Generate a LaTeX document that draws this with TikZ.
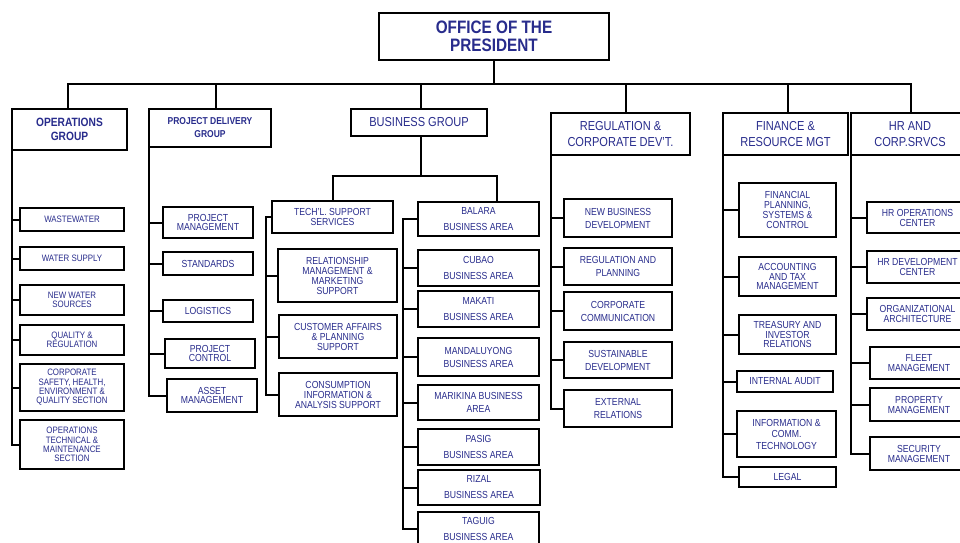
\documentclass[tikz,border=0pt]{standalone}
\usepackage{fontspec}
\setmainfont{Liberation Sans}[FakeStretch=0.85]
\definecolor{txt}{RGB}{40,44,140}
\tikzset{
  box/.style={draw, line width=1.8pt, fill=white, text=txt, align=center,
    inner sep=1pt, outer sep=0pt, anchor=north west},
  conn/.style={line width=2pt},
  fo/.style={font=\fontsize{18}{18}\selectfont\bfseries},
  fg/.style={font=\fontsize{13}{16}\selectfont},
  fgb/.style={font=\fontsize{12}{14}\selectfont\bfseries},
  fpb/.style={font=\fontsize{10}{13}\selectfont\bfseries},
  fs/.style={font=\fontsize{10.2}{10}\selectfont},
  fst/.style={font=\fontsize{10.2}{9.3}\selectfont},
  fsw/.style={font=\fontsize{10.2}{13}\selectfont},
  fsb/.style={font=\fontsize{10.2}{16}\selectfont},
  fops/.style={font=\fontsize{9.3}{9.3}\selectfont},
}
\newcommand\bx[7][]{\node[box,#1,minimum width={(#5-#3)*1pt},minimum height={(#6-#4)*1pt}] (#2) at (#3,#4) {#7};}
\begin{document}
\begin{tikzpicture}[x=1pt,y=-1pt]
\fill[white] (0,0) rectangle (960,542);
\useasboundingbox (0,0) rectangle (960,542);

% top
\bx[fo]{office}{379}{13}{609}{60}{OFFICE OF THE\\PRESIDENT}

% groups
\bx[fgb]{opsg}{12}{109}{127}{150}{OPERATIONS\\GROUP}
\bx[fpb]{pdg}{149}{109}{271}{147}{PROJECT DELIVERY\\GROUP}
\bx[fg]{bg}{351}{109}{487}{136}{BUSINESS GROUP}
\bx[fg]{regg}{551}{113}{690}{155}{REGULATION \&\\CORPORATE DEV'T.}
\bx[fg]{fing}{723}{113}{848}{155}{FINANCE \&\\RESOURCE MGT}
\bx[fg]{hrg}{851}{113}{969}{155}{HR AND\\CORP.SRVCS}

% operations
\bx[fops]{o1}{20}{208}{124}{231}{WASTEWATER}
\bx[fops]{o2}{20}{247}{124}{270}{WATER SUPPLY}
\bx[fops]{o3}{20}{285}{124}{315}{NEW WATER\\SOURCES}
\bx[fops]{o4}{20}{325}{124}{355}{QUALITY \&\\REGULATION}
\bx[fops]{o5}{20}{364}{124}{411}{CORPORATE\\SAFETY, HEALTH,\\ENVIRONMENT \&\\QUALITY SECTION}
\bx[fops]{o6}{20}{420}{124}{469}{OPERATIONS\\TECHNICAL \&\\MAINTENANCE\\SECTION}

% project delivery
\bx[fst]{p1}{163}{207}{253}{238}{PROJECT\\MANAGEMENT}
\bx[fst]{p2}{163}{252}{253}{275}{STANDARDS}
\bx[fst]{p3}{163}{300}{253}{322}{LOGISTICS}
\bx[fst]{p4}{165}{339}{255}{368}{PROJECT\\CONTROL}
\bx[fst]{p5}{167}{379}{257}{412}{ASSET\\MANAGEMENT}

% business: support
\bx[fs]{tech}{272}{201}{393}{233}{TECH'L. SUPPORT\\SERVICES}
\bx[fs]{t2}{278}{249}{397}{302}{RELATIONSHIP\\MANAGEMENT \&\\MARKETING\\SUPPORT}
\bx[fs]{t3}{279}{315}{397}{358}{CUSTOMER AFFAIRS\\\& PLANNING\\SUPPORT}
\bx[fs]{t4}{279}{373}{397}{416}{CONSUMPTION\\INFORMATION \&\\ANALYSIS SUPPORT}

% business areas
\bx[fsb]{ba1}{418}{202}{539}{236}{BALARA\\BUSINESS AREA}
\bx[fsb]{ba2}{418}{250}{539}{286}{CUBAO\\BUSINESS AREA}
\bx[fsb]{ba3}{418}{291}{539}{327}{MAKATI\\BUSINESS AREA}
\bx[fsw]{ba4}{418}{338}{539}{376}{MANDALUYONG\\BUSINESS AREA}
\bx[fsw]{ba5}{418}{385}{539}{420}{MARIKINA BUSINESS\\AREA}
\bx[fsb]{ba6}{418}{429}{539}{465}{PASIG\\BUSINESS AREA}
\bx[fsb]{ba7}{418}{470}{540}{505}{RIZAL\\BUSINESS AREA}
\bx[fsb]{ba8}{418}{512}{539}{546}{TAGUIG\\BUSINESS AREA}

% regulation
\bx[fsw]{r1}{564}{199}{672}{237}{NEW BUSINESS\\DEVELOPMENT}
\bx[fsw]{r2}{564}{248}{672}{285}{REGULATION AND\\PLANNING}
\bx[fsw]{r3}{564}{292}{672}{330}{CORPORATE\\COMMUNICATION}
\bx[fsw]{r4}{564}{342}{672}{378}{SUSTAINABLE\\DEVELOPMENT}
\bx[fsw]{r5}{564}{390}{672}{427}{EXTERNAL\\RELATIONS}

% finance
\bx[fs]{f1}{739}{183}{836}{237}{FINANCIAL\\PLANNING,\\SYSTEMS \&\\CONTROL}
\bx[fst]{f2}{739}{257}{836}{296}{ACCOUNTING\\AND TAX\\MANAGEMENT}
\bx[fst]{f3}{739}{315}{836}{354}{TREASURY AND\\INVESTOR\\RELATIONS}
\bx[fs]{f4}{737}{371}{833}{392}{INTERNAL AUDIT}
\bx[font=\fontsize{10.2}{11.5}\selectfont]{f5}{737}{411}{836}{457}{INFORMATION \&\\COMM.\\TECHNOLOGY}
\bx[fs]{f6}{739}{467}{836}{487}{LEGAL}

% HR
\bx[fs]{h1}{867}{202}{968}{233}{HR OPERATIONS\\CENTER}
\bx[fs]{h2}{867}{251}{968}{283}{HR DEVELOPMENT\\CENTER}
\bx[fs]{h3}{867}{298}{968}{330}{ORGANIZATIONAL\\ARCHITECTURE}
\bx[fs]{h4}{870}{347}{968}{379}{FLEET\\MANAGEMENT}
\bx[fs]{h5}{870}{388}{968}{421}{PROPERTY\\MANAGEMENT}
\bx[fs]{h6}{870}{437}{968}{470}{SECURITY\\MANAGEMENT}

% top connectors
\coordinate (busL) at (68,84);
\coordinate (busR) at (911,84);
\coordinate (d2) at (216,84);
\coordinate (d3) at (421,84);
\coordinate (d4) at (626,84);
\coordinate (d5) at (788,84);
\draw[conn] (office.south) -- (office.south |- busL);
\draw[conn] ([xshift=-1pt]busL) -- ([xshift=1pt]busR);
\draw[conn] (busL) -- (busL |- opsg.north);
\draw[conn] (d2) -- (d2 |- pdg.north);
\draw[conn] (d3) -- (d3 |- bg.north);
\draw[conn] (d4) -- (d4 |- regg.north);
\draw[conn] (d5) -- (d5 |- fing.north);
\draw[conn] (busR) -- (busR |- hrg.north);

% operations
\draw[conn] (opsg.south west) |- (o6.west);
\foreach \n in {o1,o2,o3,o4,o5} \draw[conn] (\n.west) -- (\n.west -| opsg.west);

% project delivery
\draw[conn] (pdg.south west) |- (p5.west);
\foreach \n in {p1,p2,p3,p4} \draw[conn] (\n.west) -- (\n.west -| pdg.west);

% business group
\coordinate (bsplit) at (421,176);
\coordinate (bL) at (332.5,176);
\coordinate (bR) at (497,176);
\draw[conn] (d3 |- bg.south) -- (bsplit);
\draw[conn] ([xshift=-1pt]bL) -- ([xshift=1pt]bR);
\draw[conn] (bL) -- (tech.north);
\draw[conn] (bR) -- (bR |- ba1.north);
\coordinate (tt) at (266,217);
\draw[conn] (tech.west) -- (tech.west -| tt) |- (t4.west);
\foreach \n in {t2,t3} \draw[conn] (\n.west) -- (\n.west -| tt);
\coordinate (bt) at (403,219);
\draw[conn] (ba1.west) -- (ba1.west -| bt) |- (ba8.west);
\foreach \n in {ba2,ba3,ba4,ba5,ba6,ba7} \draw[conn] (\n.west) -- (\n.west -| bt);

% regulation
\draw[conn] (regg.south west) |- (r5.west);
\foreach \n in {r1,r2,r3,r4} \draw[conn] (\n.west) -- (\n.west -| regg.west);

% finance
\draw[conn] (fing.south west) |- (f6.west);
\foreach \n in {f1,f2,f3,f4,f5} \draw[conn] (\n.west) -- (\n.west -| fing.west);

% HR
\draw[conn] (hrg.south west) |- (h6.west);
\foreach \n in {h1,h2,h3,h4,h5} \draw[conn] (\n.west) -- (\n.west -| hrg.west);
\end{tikzpicture}
\end{document}
